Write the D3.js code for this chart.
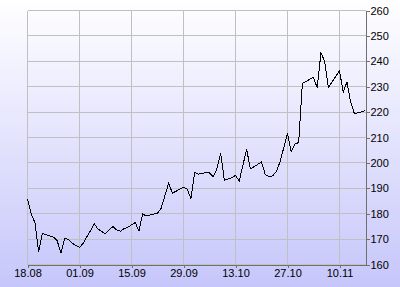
<!DOCTYPE html>
<html>
<head>
<meta charset="utf-8">
<script src="https://cdn.jsdelivr.net/npm/d3@7"></script>
<style>
html,body{margin:0;padding:0;background:#fff;}
svg{display:block;}
</style>
</head>
<body>
<svg id="chart" width="400" height="287"></svg>
<script>
const year = 2010;
const dates = ["18.08","19.08","20.08","21.08","22.08","23.08","24.08","25.08","26.08","27.08","28.08","29.08","30.08",
  "01.09","02.09","05.09","06.09","08.09","10.09","11.09","12.09","13.09","14.09","16.09","17.09","18.09","19.09",
  "22.09","23.09","25.09","26.09","29.09","30.09","01.10","02.10","03.10","05.10","06.10","07.10","08.10","09.10",
  "10.10","12.10","13.10","14.10","16.10","17.10","18.10","20.10","21.10","22.10","23.10","24.10","25.10","27.10",
  "28.10","29.10","30.10","31.10","03.11","04.11","05.11","06.11","07.11","10.11","11.11","12.11","13.11","14.11",
  "15.11","16.11","17.11"];
const values = [185.8,179.8,176.5,165.1,172.2,171.7,171.2,170.8,169.3,164.5,170.1,170.0,168.4,
  166.7,168.4,176.0,173.9,172.1,175.0,173.6,173.1,174.1,174.7,176.5,173.2,179.9,179.1,
  180.2,182.2,192.0,188.1,190.4,189.6,186.1,196.3,195.6,196.2,196.1,194.6,197.7,203.9,
  193.2,194.2,195.1,192.8,205.4,197.6,198.5,200.4,195.5,194.6,194.9,196.6,200.5,211.6,
  204.4,207.4,208.0,231.3,233.7,229.5,243.3,240.0,229.7,236.3,227.8,231.9,224.0,219.4,
  219.7,220.1,220.6];
const xTickLabels = ["18.08","01.09","15.09","29.09","13.10","27.10","10.11"];
const yTicks = [160,170,180,190,200,210,220,230,240,250,260];
const xStart = "18.08", xEnd = "17.11";

const parse = s => d3.utcParse("%d.%m.%Y")(s + "." + year);
const data = dates.map((d, i) => ({date: parse(d), value: values[i]}));

const svg = d3.select("#chart");
const W = 400, H = 287;

const defs = svg.append("defs");
const grad = defs.append("linearGradient").attr("id","bg").attr("x1",0).attr("y1",0).attr("x2",0).attr("y2",1);
grad.append("stop").attr("offset","0").attr("stop-color","#ffffff");
grad.append("stop").attr("offset","1").attr("stop-color","#c6c6fb");
svg.append("rect").attr("width",W).attr("height",H).attr("fill","url(#bg)");

const x = d3.scaleUtc().domain([parse(xStart), parse(xEnd)]).range([27.5, 365.5]);
const y = d3.scaleLinear().domain([160, 260]).range([264.5, 10.5]);

const tickDates = xTickLabels.map(parse);

// grid
const grid = svg.append("g").attr("stroke","#c0c0c0").attr("stroke-width",1).attr("shape-rendering","crispEdges");
grid.selectAll("line.h").data(yTicks).join("line")
  .attr("x1", x.range()[0]).attr("x2", x.range()[1])
  .attr("y1", d => y(d)).attr("y2", d => y(d));
grid.selectAll("line.v").data(tickDates).join("line")
  .attr("x1", d => x(d)).attr("x2", d => x(d))
  .attr("y1", y.range()[1]).attr("y2", y.range()[0]);

// line
svg.append("path").datum(data)
  .attr("fill","none").attr("stroke","#000").attr("stroke-width",1)
  .attr("shape-rendering","crispEdges")
  .attr("d", d3.line().x(d => x(d.date)).y(d => y(d.value)));

// axes
const fmt = d3.utcFormat("%d.%m");
const xAxis = svg.append("g").attr("transform", `translate(0,${y.range()[0]})`)
  .call(d3.axisBottom(x).tickValues(tickDates).tickFormat(fmt).tickSize(3).tickSizeOuter(0).tickPadding(2));
const yAxis = svg.append("g").attr("transform", `translate(${x.range()[1]},0)`)
  .call(d3.axisRight(y).tickValues(yTicks).tickSize(4).tickSizeOuter(0).tickPadding(1));
[xAxis, yAxis].forEach(a => {
  a.select(".domain").attr("stroke","#707070").attr("shape-rendering","crispEdges");
  a.selectAll(".tick line").attr("stroke","#707070").attr("shape-rendering","crispEdges");
  a.selectAll("text").attr("fill","#000").style("font-family","'Liberation Sans', Arial, sans-serif").style("font-size","11px");
});
</script>
</body>
</html>
